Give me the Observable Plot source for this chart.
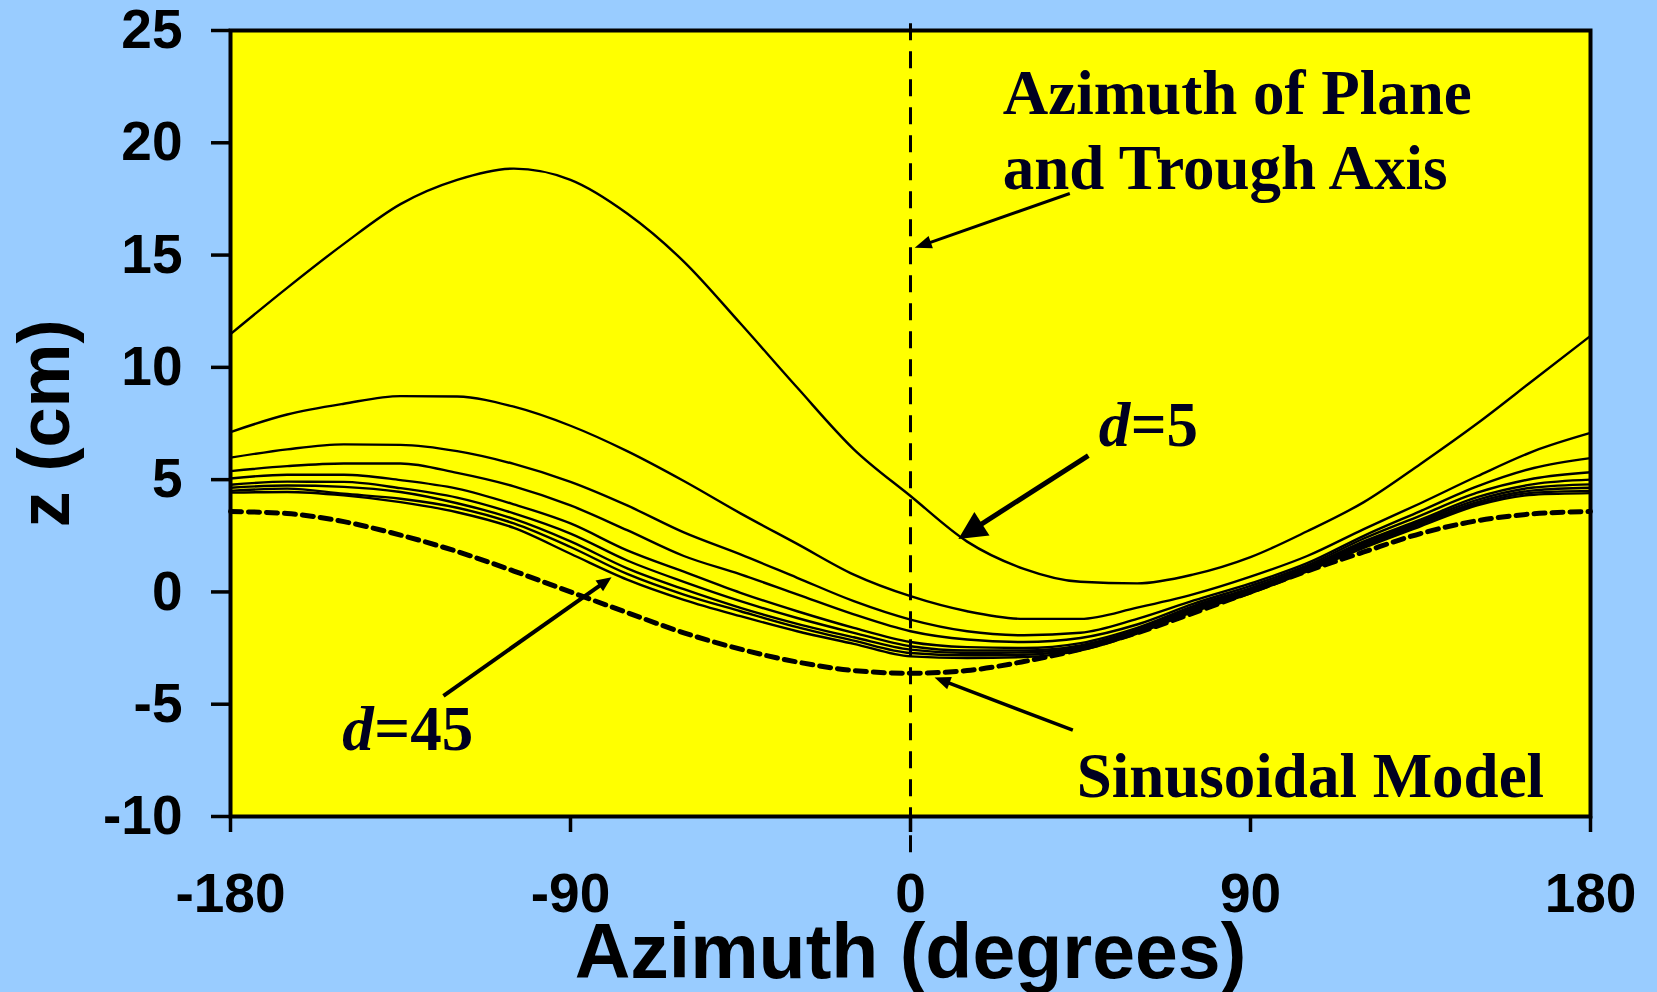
<!DOCTYPE html>
<html>
<head>
<meta charset="utf-8">
<script src="https://cdn.jsdelivr.net/npm/d3@7"></script>
<script src="https://cdn.jsdelivr.net/npm/@observablehq/plot@0.6"></script>
<style>
  html, body { margin: 0; padding: 0; background: #99CCFF; }
  #chart { width: 1657px; height: 992px; overflow: hidden; }
</style>
</head>
<body>
<div id="chart"></div>
<script>
// Azimuth sampling (degrees)
const azimuth = [-180, -165, -150, -135, -120, -105, -90, -75, -60, -45, -30, -15, 0,
                 15, 30, 45, 60, 75, 90, 105, 120, 135, 150, 165, 180];

// Trough surface elevation z (cm) for each depth d
const d5  = [11.48, 13.54, 15.5, 17.27, 18.35, 18.85, 18.35, 16.85, 14.71, 11.95, 9.1, 6.35, 4.27,
             2.24, 1.03, 0.45, 0.38, 0.78, 1.55, 2.7, 4.0, 5.7, 7.5, 9.45, 11.4];
const d10 = [7.12, 7.9, 8.38, 8.72, 8.7, 8.25, 7.4, 6.27, 4.94, 3.5, 2.14, 0.77, -0.19,
             -0.86, -1.2, -1.2, -0.7, -0.1, 0.68, 1.6, 2.8, 3.95, 5.15, 6.27, 7.08];
const d15 = [5.98, 6.35, 6.57, 6.55, 6.27, 5.7, 4.9, 3.85, 2.65, 1.67, 0.63, -0.41, -1.23,
             -1.75, -1.93, -1.82, -1.2, -0.38, 0.38, 1.28, 2.5, 3.6, 4.7, 5.52, 5.96];
const d20 = [5.38, 5.6, 5.72, 5.72, 5.3, 4.7, 3.85, 2.75, 1.6, 0.78, -0.11, -1.0, -1.75,
             -2.12, -2.23, -2.05, -1.45, -0.52, 0.27, 1.18, 2.38, 3.4, 4.42, 5.05, 5.33];
const d25 = [5.05, 5.22, 5.22, 4.98, 4.6, 3.9, 3.05, 1.85, 0.9, -0.04, -0.86, -1.6, -2.23,
             -2.46, -2.5, -2.28, -1.6, -0.62, 0.17, 1.1, 2.25, 3.22, 4.22, 4.8, 5.0];
const d30 = [4.77, 4.91, 4.9, 4.62, 4.2, 3.5, 2.6, 1.4, 0.45, -0.41, -1.16, -1.82, -2.42,
             -2.61, -2.61, -2.38, -1.68, -0.7, 0.1, 1.04, 2.17, 3.15, 4.1, 4.65, 4.79];
const d35 = [4.64, 4.74, 4.68, 4.45, 3.95, 3.25, 2.25, 1.05, 0.12, -0.71, -1.42, -2.02, -2.57,
             -2.72, -2.7, -2.45, -1.74, -0.76, 0.04, 0.99, 2.1, 3.07, 4.0, 4.52, 4.64];
const d40 = [4.5, 4.6, 4.37, 4.15, 3.75, 3.05, 2.0, 0.8, -0.12, -0.86, -1.57, -2.17, -2.72,
             -2.82, -2.8, -2.52, -1.8, -0.82, -0.01, 0.95, 2.03, 3.0, 3.92, 4.42, 4.5];
const d45 = [4.42, 4.45, 4.3, 4.0, 3.55, 2.85, 1.7, 0.55, -0.35, -1.08, -1.75, -2.31, -2.87,
             -2.94, -2.9, -2.6, -1.85, -0.88, -0.06, 0.92, 1.96, 2.92, 3.85, 4.33, 4.4];

// Sinusoidal model of the plane
const sinusoidalModel = [3.58, 3.49, 3.13, 2.53, 1.8, 0.93, 0.0, -0.92, -1.82, -2.55, -3.12, -3.5, -3.62,
                         -3.5, -3.1, -2.55, -1.82, -0.93, 0.0, 0.93, 1.78, 2.6, 3.17, 3.48, 3.58];

const depths = [5, 10, 15, 20, 25, 30, 35, 40, 45];
const depthSeries = [d5, d10, d15, d20, d25, d30, d35, d40, d45];

// Axis ticks
const xTicks = [-180, -90, 0, 90, 180];
const yTicks = [25, 20, 15, 10, 5, 0, -5, -10];

// Azimuth of the plane / trough axis, extended a little beyond the frame
const troughAxis = [{az: 0, top: 25.3, bottom: -11.9}];

// Annotation texts (data coordinates)
const notes = [
  {az: 24.4, z: 21.29, text: "Azimuth of Plane"},
  {az: 24.4, z: 17.94, text: "and Trough Axis"},
  {az: 44.0, z: -9.15, text: "Sinusoidal Model"}
];
const depthNotes = [
  {az: 49.8, z: 6.5, value: "=5"},
  {az: -150.4, z: -7.02, value: "=45"}
];

// Leader arrows: tail (x1,y1) -> tip (x2,y2)
const arrows = [
  {x1: 42.3, y1: 17.72, x2: 1.24, y2: 15.3},
  {x1: 47.2, y1: 6.05, x2: 12.8, y2: 2.34},
  {x1: -123.5, y1: -4.65, x2: -79.0, y2: 0.63},
  {x1: 43.1, y1: -6.18, x2: 6.5, y2: -3.83}
];
const arrowLook = [
  {w: 3, len: 17, half: 6.5},
  {w: 5, len: 28, half: 14},
  {w: 4, len: 15, half: 6.5},
  {w: 3.5, len: 16, half: 6.5}
];

const rows = depthSeries.flatMap((zs, k) => zs.map((z, i) => ({d: depths[k], az: azimuth[i], z})));
const modelRows = azimuth.map((az, i) => ({az, z: sinusoidalModel[i]}));

const serif = "'Liberation Serif', 'Times New Roman', serif";
const ink = "#000020";

// Arrow shafts with filled triangular heads, positioned via the plot scales
function arrowMark(index, scales) {
  const g = d3.create("svg:g");
  arrows.forEach((a, i) => {
    const s = arrowLook[i];
    const x1 = scales.x(a.x1), y1 = scales.y(a.y1), x2 = scales.x(a.x2), y2 = scales.y(a.y2);
    const ang = Math.atan2(y2 - y1, x2 - x1);
    const c = Math.cos(ang), sn = Math.sin(ang);
    const bx = x2 - s.len * c, by = y2 - s.len * sn;
    g.append("line")
      .attr("x1", x1).attr("y1", y1).attr("x2", bx + c).attr("y2", by + sn)
      .attr("stroke", "black").attr("stroke-width", s.w);
    g.append("polygon")
      .attr("points", `${x2},${y2} ${bx - sn * s.half},${by + c * s.half} ${bx + sn * s.half},${by - c * s.half}`)
      .attr("fill", "black");
  });
  return g.node();
}

const chart = Plot.plot({
  width: 1657,
  height: 992,
  marginLeft: 230,
  marginRight: 67,
  marginTop: 30,
  marginBottom: 176,
  style: {background: "#99CCFF", fontFamily: "'Liberation Sans', Arial, sans-serif", color: "black", overflow: "visible"},
  x: {domain: [-180, 180]},
  y: {domain: [-10, 25]},
  marks: [
    Plot.frame({fill: "#FFFF00"}),
    Plot.axisX({ticks: xTicks, tickSize: 16, tickPadding: 40, strokeWidth: 3.5, fontSize: 55, fontWeight: "bold",
                tickFormat: d => `${d}`, label: null}),
    Plot.axisY({ticks: yTicks, tickSize: 19, tickPadding: 29, strokeWidth: 3.5, fontSize: 55, fontWeight: "bold",
                tickFormat: d => `${d}`, label: null}),
    Plot.line(rows, {x: "az", y: "z", z: "d", stroke: "black", strokeWidth: 2.4, curve: "monotone-x"}),
    Plot.line(modelRows, {x: "az", y: "z", stroke: "black", strokeWidth: 5, strokeDasharray: "11,7", curve: "monotone-x"}),
    Plot.ruleX(troughAxis, {x: "az", y1: "top", y2: "bottom", stroke: "black", strokeWidth: 3, strokeDasharray: "17,11"}),
    Plot.text(notes, {x: "az", y: "z", text: "text", textAnchor: "start", lineAnchor: "bottom",
                      fontFamily: serif, fontWeight: "bold", fontSize: 63, fill: ink}),
    Plot.text(depthNotes, {x: "az", y: "z", text: () => "d", textAnchor: "start", lineAnchor: "bottom",
                           fontFamily: serif, fontWeight: "bold", fontStyle: "italic", fontSize: 63, fill: ink}),
    Plot.text(depthNotes, {x: "az", y: "z", text: "value", dx: 32, textAnchor: "start", lineAnchor: "bottom",
                           fontFamily: serif, fontWeight: "bold", fontSize: 63, fill: ink}),
    arrowMark,
    Plot.text(["Azimuth (degrees)"], {text: d => d, frameAnchor: "bottom", dy: 161, lineAnchor: "bottom",
                                      textAnchor: "middle", fontSize: 77, fontWeight: "bold", fill: "black"}),
    Plot.text(["z (cm)"], {text: d => d, frameAnchor: "left", dx: -162, rotate: -90, lineAnchor: "bottom",
                           textAnchor: "middle", fontSize: 72, fontWeight: "bold", fill: "black"}),
    Plot.frame({stroke: "black", strokeWidth: 4})
  ]
});

document.getElementById("chart").appendChild(chart);
</script>
</body>
</html>
